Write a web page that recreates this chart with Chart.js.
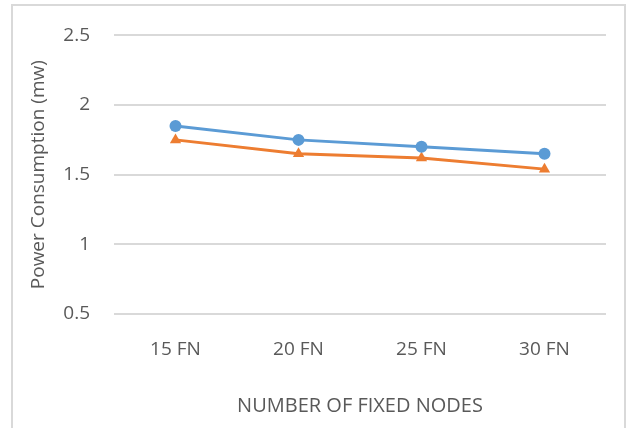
<!DOCTYPE html>
<html>
<head>
<meta charset="utf-8">
<script src="https://cdn.jsdelivr.net/npm/chart.js@4"></script>
<style>
  html, body { margin: 0; padding: 0; background: #fff; overflow: hidden; }
  #frame { position: absolute; left: 11px; top: 4px; width: 611px; height: 500px; border: 2px solid #d9d9d9; }
  #chart { position: absolute; left: 0; top: 0; }
</style>
</head>
<body>
<div id="frame"></div>
<canvas id="chart" width="626" height="428"></canvas>
<script>
// data
const labels = ["15 FN", "20 FN", "25 FN", "30 FN"];
const seriesBlue = [1.85, 1.75, 1.70, 1.65];
const seriesOrange = [1.75, 1.65, 1.62, 1.54];
const yTicks = [0.5, 1, 1.5, 2, 2.5];

const textColor = "#595959";
const gridColor = "#d9d9d9";
const family = "'Open Sans', sans-serif";
const tickFont = { family: family, size: 19 };

new Chart(document.getElementById("chart").getContext("2d"), {
  type: "line",
  data: {
    labels: labels,
    datasets: [
      {
        label: "Series 1",
        data: seriesBlue,
        borderColor: "#5b9bd5",
        backgroundColor: "#5b9bd5",
        borderWidth: 3,
        pointStyle: "circle",
        pointRadius: 6,
        pointBorderWidth: 0,
        fill: false
      },
      {
        label: "Series 2",
        data: seriesOrange,
        borderColor: "#ed7d31",
        backgroundColor: "#ed7d31",
        borderWidth: 3,
        pointStyle: "triangle",
        pointRadius: 6.5,
        pointBorderWidth: 0,
        fill: false
      }
    ]
  },
  options: {
    responsive: false,
    animation: false,
    devicePixelRatio: 1,
    layout: { padding: { left: 0, top: 31, right: 20, bottom: 0 } },
    plugins: {
      legend: { display: false },
      tooltip: { enabled: false }
    },
    scales: {
      x: {
        offset: true,
        grid: { display: false, drawTicks: false },
        border: { display: false },
        ticks: { color: textColor, font: tickFont, padding: 24 },
        title: {
          display: true,
          text: "NUMBER OF FIXED NODES",
          color: textColor,
          font: { family: family, size: 20 },
          padding: { top: 0, bottom: 10 }
        },
        afterFit: s => { s.height = 114; }
      },
      y: {
        min: 0.5,
        max: 2.5,
        afterBuildTicks: s => { s.ticks = yTicks.map(v => ({ value: v })); },
        grid: { color: gridColor, lineWidth: 2, drawTicks: false },
        border: { display: false },
        ticks: { color: textColor, font: tickFont, padding: 24, callback: v => String(v) },
        title: {
          display: true,
          text: "Power Consumption (mw)",
          color: textColor,
          font: { family: family, size: 19 },
          padding: { top: 27, bottom: 0 }
        },
        afterFit: s => { s.width = 114; }
      }
    }
  }
});
</script>
</body>
</html>
